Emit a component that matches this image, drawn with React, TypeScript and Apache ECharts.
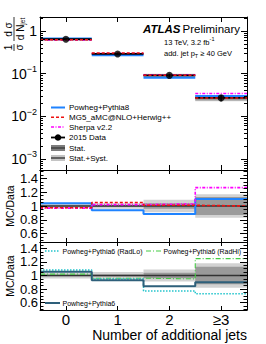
import React, { useEffect, useRef } from 'react';
import * as echarts from 'echarts';

const FONT = "'Liberation Sans', Arial, Helvetica, sans-serif";

// ---- data ----
const categories = ['0', '1', '2', '≥3'];
const binCenters = [0, 1, 2, 3];
const dataXsec = [0.64, 0.29, 0.091, 0.027];
const ratioData = [1, 1, 1, 1];
const ratioPowhegPy8 = [1.04, 0.94, 0.885, 1.1];
const ratioMG5 = [0.975, 1.05, 1.01, 1.0];
const ratioSherpa = [0.97, 1.02, 1.03, 1.265];
const statUnc = [0.01, 0.015, 0.04, 0.13];
const totUncMid = [0.03, 0.04, 0.09, 0.17];
const totUncBot = [0.045, 0.05, 0.09, 0.18];
const ratioPowhegPy6 = [1.057, 0.93, 0.84, 0.9];
const ratioRadLo = [1.08, 0.95, 0.77, 0.73];
const ratioRadHi = [1.02, 0.96, 0.95, 1.25];

const logMajorTicks = [0.001, 0.01, 0.1, 1];
const logMinorTicks = [
  6e-4, 7e-4, 8e-4, 9e-4,
  0.002, 0.003, 0.004, 0.005, 0.006, 0.007, 0.008, 0.009,
  0.02, 0.03, 0.04, 0.05, 0.06, 0.07, 0.08, 0.09,
  0.2, 0.3, 0.4, 0.5, 0.6, 0.7, 0.8, 0.9, 2,
];
const ratioMajorTicks = [0.6, 0.8, 1, 1.2, 1.4];
const ratioMinorTicks = [
  0.5, 0.55, 0.65, 0.7, 0.75, 0.85, 0.9, 0.95, 1.05, 1.1, 1.15, 1.25, 1.3, 1.35, 1.45, 1.5,
];

// ---- colours ----
const C_PY8 = '#1f83ff';
const C_MG5 = '#ee1111';
const C_SHERPA = '#ff00ff';
const C_PY6 = '#2e5f7a';
const C_RADLO = '#22c4cc';
const C_RADHI = '#44cc44';
const C_STAT = '#9a9a9a';
const C_SYST = '#d2d2d2';

const LOG_MIN = 5.5e-4;
const LOG_MAX = 2.13;

const edgesX = categories.map((_, i) => i - 0.5).concat(categories.length - 0.5);
const stepData = (vals: number[]) => edgesX.map((x, k) => [x, vals[Math.min(k, vals.length - 1)]]);

function xAxisCfg(grid: number, pos: 'top' | 'bottom', showLabels: boolean, tickLen: number) {
  return {
    type: 'value',
    gridIndex: grid,
    position: pos,
    min: -0.5,
    max: 3.5,
    z: 10,
    axisLine: { show: true, onZero: false, lineStyle: { color: '#000', width: 1 } },
    axisTick: { show: true, inside: true, length: tickLen, customValues: binCenters, lineStyle: { color: '#000', width: 1 } },
    axisLabel: showLabels
      ? {
          show: true,
          customValues: binCenters,
          formatter: (v: number) => categories[Math.round(v)],
          fontSize: 15,
          fontFamily: FONT,
          color: '#000',
          margin: 2,
        }
      : { show: false },
    splitLine: { show: false },
    minorTick: { show: false },
  };
}

function yAxisCfg(
  grid: number,
  pos: 'left' | 'right',
  type: 'log' | 'value',
  min: number,
  max: number,
  ticks: number[],
  tickLen: number,
  showLine: boolean,
  label: any,
) {
  return {
    type,
    gridIndex: grid,
    position: pos,
    min,
    max,
    z: 10,
    axisLine: { show: showLine, onZero: false, lineStyle: { color: '#000', width: 1 } },
    axisTick: { show: true, inside: true, length: tickLen, customValues: ticks, lineStyle: { color: '#000', width: 1 } },
    axisLabel: label || { show: false },
    splitLine: { show: false },
    minorTick: { show: false },
  };
}

const logLabel = {
  show: true,
  customValues: logMajorTicks,
  margin: 3,
  color: '#000',
  formatter: (v: number) => {
    const e = Math.round(Math.log10(v));
    return e === 0 ? '{b|1}' : `{b|10}{s|−${-e}}`;
  },
  rich: {
    b: { fontSize: 14, fontFamily: FONT, color: '#000' },
    s: { fontSize: 9, fontFamily: FONT, color: '#000', padding: [0, 0, 9, 0] },
  },
};

const ratioLabel = {
  show: true,
  customValues: ratioMajorTicks,
  margin: 2,
  color: '#000',
  fontSize: 13,
  fontFamily: FONT,
  formatter: (v: number) => Number(v.toFixed(2)).toString(),
};

function hSegSeries(vals: number[], color: string, width: number, dash: any, z: number) {
  return {
    type: 'custom',
    xAxisIndex: 0,
    yAxisIndex: 0,
    z,
    silent: true,
    data: vals.map((v, i) => [i, v]),
    encode: { x: 0, y: 1 },
    renderItem: (_p: any, api: any) => {
      const i = api.value(0);
      const v = api.value(1);
      const a = api.coord([i - 0.5, v]);
      const b = api.coord([i + 0.5, v]);
      return {
        type: 'line',
        shape: { x1: a[0], y1: a[1], x2: b[0], y2: b[1] },
        style: { stroke: color, lineWidth: width, lineDash: dash, fill: null },
      };
    },
  };
}

function bandSeries(xIdx: number, yIdx: number, lo: number[], hi: number[], color: string, z: number) {
  return {
    type: 'custom',
    xAxisIndex: xIdx,
    yAxisIndex: yIdx,
    z,
    silent: true,
    data: lo.map((l, i) => [i, l, hi[i]]),
    encode: { x: 0, y: [1, 2] },
    renderItem: (_p: any, api: any) => {
      const i = api.value(0);
      const a = api.coord([i - 0.5, api.value(2)]);
      const b = api.coord([i + 0.5, api.value(1)]);
      return {
        type: 'rect',
        shape: { x: a[0], y: a[1], width: b[0] - a[0], height: Math.max(b[1] - a[1], 0.5) },
        style: { fill: color },
      };
    },
  };
}

function stepSeries(xIdx: number, yIdx: number, vals: number[], color: string, width: number, dash: any, z: number) {
  return {
    type: 'line',
    xAxisIndex: xIdx,
    yAxisIndex: yIdx,
    z,
    silent: true,
    step: 'end',
    symbol: 'none',
    showSymbol: false,
    data: stepData(vals),
    lineStyle: { color, width, type: dash },
  };
}

function buildOption() {
  const grids = [
    { left: 40, top: 17, width: 207, height: 153 },
    { left: 40, top: 170, width: 207, height: 72 },
    { left: 40, top: 242, width: 207, height: 68 },
  ].map((g) => ({ ...g, show: false, containLabel: false, outerBoundsMode: 'none' }));

  const xAxis = [
    xAxisCfg(0, 'bottom', false, 5),
    xAxisCfg(0, 'top', false, 5),
    xAxisCfg(1, 'bottom', false, 4),
    xAxisCfg(1, 'top', false, 4),
    xAxisCfg(2, 'bottom', true, 4),
    xAxisCfg(2, 'top', false, 4),
  ];

  const MID_MIN = 0.48, MID_MAX = 1.52;
  const BOT_MIN = 0.49, BOT_MAX = 1.495;

  const yAxis = [
    yAxisCfg(0, 'left', 'log', LOG_MIN, LOG_MAX, logMajorTicks, 6, true, logLabel),
    yAxisCfg(0, 'left', 'log', LOG_MIN, LOG_MAX, logMinorTicks, 3, false, null),
    yAxisCfg(0, 'right', 'log', LOG_MIN, LOG_MAX, logMajorTicks, 6, true, null),
    yAxisCfg(0, 'right', 'log', LOG_MIN, LOG_MAX, logMinorTicks, 3, false, null),
    yAxisCfg(1, 'left', 'value', MID_MIN, MID_MAX, ratioMajorTicks, 7, true, ratioLabel),
    yAxisCfg(1, 'left', 'value', MID_MIN, MID_MAX, ratioMinorTicks, 3.5, false, null),
    yAxisCfg(1, 'right', 'value', MID_MIN, MID_MAX, ratioMajorTicks, 7, true, null),
    yAxisCfg(1, 'right', 'value', MID_MIN, MID_MAX, ratioMinorTicks, 3.5, false, null),
    yAxisCfg(2, 'left', 'value', BOT_MIN, BOT_MAX, ratioMajorTicks, 7, true, ratioLabel),
    yAxisCfg(2, 'left', 'value', BOT_MIN, BOT_MAX, ratioMinorTicks, 3.5, false, null),
    yAxisCfg(2, 'right', 'value', BOT_MIN, BOT_MAX, ratioMajorTicks, 7, true, null),
    yAxisCfg(2, 'right', 'value', BOT_MIN, BOT_MAX, ratioMinorTicks, 3.5, false, null),
  ];

  const topLo = (u: number[]) => dataXsec.map((d, i) => d * (1 - u[i]));
  const topHi = (u: number[]) => dataXsec.map((d, i) => d * (1 + u[i]));
  const mc = (r: number[]) => dataXsec.map((d, i) => d * r[i]);
  const rLo = (u: number[]) => ratioData.map((d, i) => d - u[i]);
  const rHi = (u: number[]) => ratioData.map((d, i) => d + u[i]);

  const series: any[] = [
    // top panel
    bandSeries(0, 0, topLo(totUncMid), topHi(totUncMid), C_SYST, 1),
    bandSeries(0, 0, topLo(statUnc), topHi(statUnc), C_STAT, 1),
    hSegSeries(mc(ratioPowhegPy8), C_PY8, 2.2, null, 3),
    hSegSeries(mc(ratioSherpa), C_SHERPA, 1.6, [3, 1.5, 1, 1.5], 3),
    hSegSeries(dataXsec, '#000', 1.8, null, 4),
    hSegSeries(mc(ratioMG5), C_MG5, 1.5, [3, 2], 4),
    {
      type: 'custom',
      xAxisIndex: 0,
      yAxisIndex: 0,
      z: 5,
      silent: true,
      data: dataXsec.map((d, i) => [i, d * (1 - totUncMid[i]), d * (1 + totUncMid[i])]),
      encode: { x: 0, y: [1, 2] },
      renderItem: (_p: any, api: any) => {
        const i = api.value(0);
        const a = api.coord([i, api.value(2)]);
        const b = api.coord([i, api.value(1)]);
        return {
          type: 'line',
          shape: { x1: a[0], y1: a[1], x2: b[0], y2: b[1] },
          style: { stroke: '#000', lineWidth: 1.5 },
        };
      },
    },
    {
      type: 'scatter',
      xAxisIndex: 0,
      yAxisIndex: 0,
      z: 6,
      silent: true,
      symbol: 'circle',
      symbolSize: 7,
      itemStyle: { color: '#000' },
      data: dataXsec.map((d, i) => [i, d]),
    },
    // middle ratio panel
    bandSeries(2, 4, rLo(totUncMid), rHi(totUncMid), C_SYST, 1),
    bandSeries(2, 4, rLo(statUnc), rHi(statUnc), C_STAT, 1),
    stepSeries(2, 4, ratioData, '#000', 1.2, 'solid', 3),
    stepSeries(2, 4, ratioPowhegPy8, C_PY8, 2, 'solid', 4),
    stepSeries(2, 4, ratioSherpa, C_SHERPA, 1.6, [3, 1.5, 1, 1.5], 4),
    stepSeries(2, 4, ratioMG5, C_MG5, 1.6, [3, 2], 5),
    // bottom ratio panel
    bandSeries(4, 8, rLo(totUncBot), rHi(totUncBot), C_SYST, 1),
    bandSeries(4, 8, rLo(statUnc), rHi(statUnc), C_STAT, 1),
    stepSeries(4, 8, ratioData, '#333', 1.6, 'solid', 3),
    stepSeries(4, 8, ratioRadHi, C_RADHI, 1.1, [5, 2, 1, 2], 4),
    stepSeries(4, 8, ratioRadLo, C_RADLO, 1.5, [1.5, 1.5], 4),
    stepSeries(4, 8, ratioPowhegPy6, C_PY6, 2, 'solid', 5),
  ];

  const txt = (x: number, y: number, text: string, fontSize: number, extra: any = {}, el: any = {}) => ({
    type: 'text',
    x,
    y,
    silent: true,
    z: 20,
    ...el,
    style: {
      text,
      fontSize,
      fontFamily: FONT,
      fill: '#000',
      align: 'left',
      verticalAlign: 'middle',
      ...extra,
    },
  });
  const ln = (x1: number, y1: number, x2: number, y2: number, stroke: string, lineWidth: number, lineDash: any = null) => ({
    type: 'line',
    silent: true,
    z: 20,
    shape: { x1, y1, x2, y2 },
    style: { stroke, lineWidth, lineDash },
  });

  const legRows = [107.5, 117.3, 127, 137.5, 148, 158];
  const LX1 = 51, LX2 = 65, LT = 69;

  const graphic: any[] = [
    // ATLAS label
    txt(143, 29, 'ATLAS', 11.5, { fontWeight: 'bold', fontStyle: 'italic' }),
    txt(182.5, 29, 'Preliminary', 11.5),
    {
      type: 'text',
      x: 164,
      y: 42,
      silent: true,
      z: 20,
      style: {
        text: '{a|13 TeV, 3.2 fb}{s|-1}',
        align: 'left',
        verticalAlign: 'middle',
        rich: {
          a: { fontSize: 7.5, fontFamily: FONT, fill: '#000', color: '#000' },
          s: { fontSize: 5.5, fontFamily: FONT, fill: '#000', color: '#000', padding: [0, 0, 6, 0] },
        },
      },
    },
    {
      type: 'text',
      x: 164,
      y: 53,
      silent: true,
      z: 20,
      style: {
        text: '{a|add. jet p}{t|T}{a| ≥ 40 GeV}',
        align: 'left',
        verticalAlign: 'middle',
        rich: {
          a: { fontSize: 7.5, fontFamily: FONT, fill: '#000', color: '#000' },
          t: { fontSize: 5.5, fontFamily: FONT, fill: '#000', color: '#000', padding: [5, 0, 0, 0] },
        },
      },
    },
    // top legend
    ln(LX1, legRows[0], LX2, legRows[0], C_PY8, 2),
    txt(LT, legRows[0], 'Powheg+Pythia8', 8),
    ln(LX1, legRows[1], LX2, legRows[1], C_MG5, 1.5, [3, 2]),
    txt(LT, legRows[1], 'MG5_aMC@NLO+Herwig++', 8),
    ln(LX1, legRows[2], LX2, legRows[2], C_SHERPA, 1.5, [3, 1.5, 1, 1.5]),
    txt(LT, legRows[2], 'Sherpa v2.2', 8),
    ln(LX1, legRows[3], LX2, legRows[3], '#000', 1.8),
    { type: 'circle', silent: true, z: 20, shape: { cx: (LX1 + LX2) / 2, cy: legRows[3], r: 3.3 }, style: { fill: '#000' } },
    txt(LT, legRows[3], '2015 Data', 8),
    { type: 'rect', silent: true, z: 20, shape: { x: LX1, y: legRows[4] - 3, width: LX2 - LX1, height: 6 }, style: { fill: '#7d7d7d' } },
    ln(LX1, legRows[4], LX2, legRows[4], '#222', 1),
    txt(LT, legRows[4], 'Stat.', 8),
    { type: 'rect', silent: true, z: 20, shape: { x: LX1, y: legRows[5] - 3, width: LX2 - LX1, height: 6 }, style: { fill: '#c4c4c4' } },
    ln(LX1, legRows[5], LX2, legRows[5], '#000', 1),
    txt(LT, legRows[5], 'Stat.+Syst.', 8),
    // bottom legends
    ln(45, 251, 60, 251, C_RADLO, 1.5, [1.5, 1.5]),
    txt(62.5, 251, 'Powheg+Pythia6 (RadLo)', 7),
    ln(146, 251, 161, 251, C_RADHI, 1.1, [5, 2, 1, 2]),
    txt(163.5, 251, 'Powheg+Pythia6 (RadHi)', 6.9),
    ln(45, 303, 60, 303, C_PY6, 2),
    txt(62.5, 303, 'Powheg+Pythia6', 7),
    // ratio y titles (rotated)
    txt(10, 206, 'MC/Data', 10.5, { align: 'center' }, { rotation: Math.PI / 2 }),
    txt(10, 276, 'MC/Data', 10.5, { align: 'center' }, { rotation: Math.PI / 2 }),
    // x title
    txt(247, 335, 'Number of additional jets', 14, { align: 'right' }),
    // top y title (rotated fraction)
    {
      type: 'group',
      x: 14,
      y: 51,
      rotation: Math.PI / 2,
      silent: true,
      children: [
        { type: 'text', x: 3.5, y: -5.5, style: { text: '1', fontSize: 10, fontFamily: FONT, fill: '#000', align: 'center', verticalAlign: 'middle' } },
        { type: 'line', shape: { x1: 0, y1: 0, x2: 7, y2: 0 }, style: { stroke: '#000', lineWidth: 0.8 } },
        { type: 'text', x: 3.5, y: 5.5, style: { text: 'σ', fontSize: 10, fontFamily: FONT, fill: '#000', align: 'center', verticalAlign: 'middle' } },
        { type: 'text', x: 21.5, y: -5.5, style: { text: 'd σ', fontSize: 10, fontFamily: FONT, fill: '#000', align: 'center', verticalAlign: 'middle' } },
        { type: 'line', shape: { x1: 10, y1: 0, x2: 34, y2: 0 }, style: { stroke: '#000', lineWidth: 0.8 } },
        {
          type: 'text',
          x: 22,
          y: 6,
          style: {
            text: '{a|d N}{s|jet}',
            align: 'center',
            verticalAlign: 'middle',
            rich: {
              a: { fontSize: 10, fontFamily: FONT, fill: '#000', color: '#000' },
              s: { fontSize: 6.5, fontFamily: FONT, fill: '#000', color: '#000', padding: [5, 0, 0, 0] },
            },
          },
        },
      ],
    },
  ];

  return {
    animation: false,
    backgroundColor: '#fff',
    textStyle: { fontFamily: FONT },
    grid: grids,
    xAxis,
    yAxis,
    series,
    graphic: { elements: graphic },
  };
}

export default function App() {
  const ref = useRef<HTMLDivElement>(null);
  useEffect(() => {
    const el = ref.current;
    if (!el) return;
    const chart = echarts.init(el, null, { renderer: 'svg', width: 266, height: 344 });
    chart.setOption(buildOption() as any);
    return () => chart.dispose();
  }, []);
  return (
    <div
      ref={ref}
      style={{ position: 'fixed', left: 0, top: 0, width: 266, height: 344, background: '#fff' }}
    />
  );
}
